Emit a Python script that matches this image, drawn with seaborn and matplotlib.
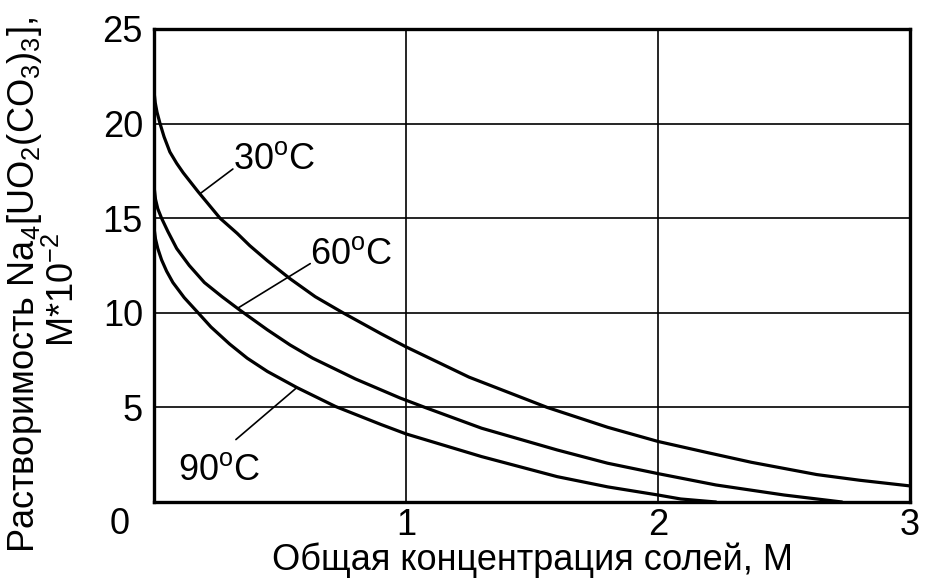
import numpy as np
import pandas as pd
import matplotlib
matplotlib.use("Agg")
import matplotlib.pyplot as plt
import seaborn as sns

# === Data ===
x_30 = [0, 0.005, 0.012, 0.024, 0.04, 0.063, 0.09, 0.116, 0.175, 0.262, 0.33,
        0.38, 0.45, 0.54, 0.64, 0.75, 0.9, 1.0, 1.25, 1.56, 1.8, 2.0, 2.2,
        2.37, 2.63, 2.8, 3.0]
y_30 = [21.7, 21.1, 20.6, 20.0, 19.3, 18.5, 17.9, 17.4, 16.4, 15.0, 14.2,
        13.55, 12.75, 11.8, 10.85, 10.0, 8.9, 8.2, 6.6, 5.0, 3.95, 3.2, 2.6,
        2.1, 1.45, 1.15, 0.85]

x_60 = [0, 0.006, 0.015, 0.03, 0.055, 0.09, 0.14, 0.2, 0.27, 0.34, 0.45, 0.54,
        0.63, 0.8, 0.976, 1.075, 1.3, 1.6, 1.8, 2.0, 2.23, 2.5, 2.73]
y_60 = [16.7, 16.0, 15.5, 15.0, 14.3, 13.4, 12.5, 11.6, 10.85, 10.15, 9.1, 8.3,
        7.6, 6.5, 5.5, 5.0, 3.9, 2.75, 2.05, 1.5, 0.9, 0.37, 0.0]

x_90 = [0, 0.006, 0.015, 0.03, 0.05, 0.075, 0.12, 0.175, 0.226, 0.3, 0.37,
        0.45, 0.567, 0.72, 0.9, 1.0, 1.3, 1.6, 1.8, 2.0, 2.09, 2.23]
y_90 = [14.5, 13.9, 13.4, 12.8, 12.2, 11.6, 10.8, 10.0, 9.25, 8.35, 7.6,
        6.9, 6.05, 5.05, 4.1, 3.6, 2.4, 1.34, 0.8, 0.37, 0.16, 0.0]

x_ticks = [1, 2, 3]
y_ticks = [5, 10, 15, 20, 25]

# label text position (x, y) and leader line (curve point -> label point)
labels = ["30$^{\\mathrm{o}}$C", "60$^{\\mathrm{o}}$C", "90$^{\\mathrm{o}}$C"]
label_pos = [(0.313, 17.6), (0.62, 12.6), (0.095, 1.16)]
leader_from = [(0.183, 16.3), (0.333, 10.25), (0.567, 6.05)]
leader_to = [(0.313, 17.6), (0.62, 12.6), (0.325, 3.3)]

# === Style ===
sns.set_style("white")
plt.rcParams["font.family"] = ["Liberation Sans", "DejaVu Sans"]
plt.rcParams["mathtext.fontset"] = "custom"
plt.rcParams["mathtext.rm"] = "Liberation Sans"
plt.rcParams["mathtext.it"] = "Liberation Sans"
plt.rcParams["mathtext.default"] = "regular"
plt.rcParams["text.color"] = "black"
plt.rcParams["axes.labelcolor"] = "black"

FS = 26

fig = plt.figure(figsize=(9.26, 5.79), dpi=100)
ax = fig.add_axes([154 / 926, 1 - 502 / 579, (910 - 154) / 926, (502 - 29) / 579])

for xs, ys in [(x_30, y_30), (x_60, y_60), (x_90, y_90)]:
    df = pd.DataFrame({"x": xs, "y": ys})
    sns.lineplot(data=df, x="x", y="y", color="black", lw=2.3, ax=ax,
                 sort=False, estimator=None)

ax.set_xlim(0, 3)
ax.set_ylim(0, 25)
ax.set_xticks(x_ticks)
ax.set_yticks(y_ticks)
ax.tick_params(axis="both", length=0, labelsize=FS, colors="black")
ax.tick_params(axis="x", pad=4)
ax.tick_params(axis="y", pad=8)
ax.grid(True, color="black", lw=1.2)
for s in ax.spines.values():
    s.set_color("black")
    s.set_linewidth(2.4)
    s.set_zorder(5)

# corner "0"
ax.annotate("0", xy=(0, 0), xytext=(-34, -22), textcoords="offset pixels",
            ha="center", va="center", fontsize=FS)

# curve labels with leader lines
for lab, pos, p0, p1 in zip(labels, label_pos, leader_from, leader_to):
    ax.plot([p0[0], p1[0]], [p0[1], p1[1]], color="black", lw=1.2)
    ax.text(pos[0], pos[1], lab, ha="left", va="baseline", fontsize=FS)

ax.set_xlabel("Общая концентрация солей, М", fontsize=FS, labelpad=0)
ax.set_ylabel("")
fig.text(25 / 926, 1 - 285 / 579, "Растворимость Na$_4$[UO$_2$(CO$_3$)$_3$],",
         rotation=90, ha="center", va="center", fontsize=FS)
fig.text(64 / 926, 1 - 290 / 579, "М*10$^{-2}$",
         rotation=90, ha="center", va="center", fontsize=FS)

fig.savefig("out.png", dpi=100, facecolor="white")
